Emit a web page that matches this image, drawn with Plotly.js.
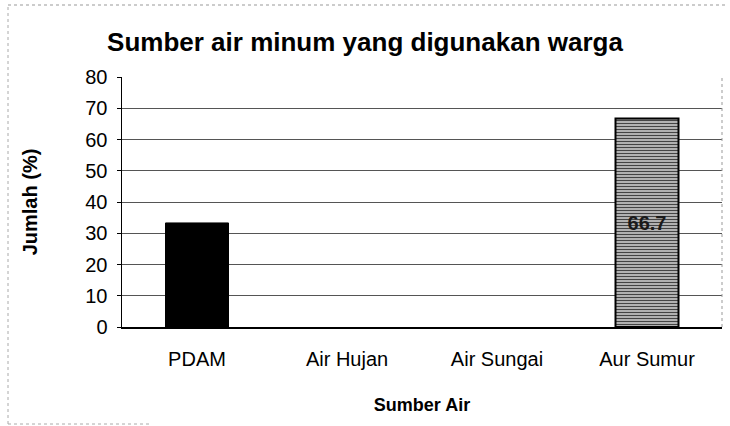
<!DOCTYPE html>
<html>
<head>
<meta charset="utf-8">
<script src="https://cdn.plot.ly/plotly-3.0.1.min.js"></script>
<style>html,body{margin:0;padding:0;background:#fff;}#chart{width:730px;height:426px;}</style>
</head>
<body>
<div id="chart"></div>
<script>
const categories = ["PDAM", "Air Hujan", "Air Sungai", "Aur Sumur"];
const values = [33.3, 0, 0, 66.7];
const valueLabels = ["", "", "", "66.7"];
const yTicks = [0, 10, 20, 30, 40, 50, 60, 70, 80];

const barColors = ["#000000", "#000000", "#000000", "#bdbdbd"];
const barLineWidths = [1, 0, 0, 2];
const patternShapes = ["", "", "", "-"];

const trace = {
  type: "bar",
  x: categories,
  y: values,
  text: valueLabels,
  textposition: "inside",
  insidetextanchor: "middle",
  textangle: 0,
  textfont: {family: "Arial, Liberation Sans, sans-serif", size: 20, color: "#1a1a1a", weight: "bold"},
  marker: {
    color: barColors,
    line: {color: "#000", width: barLineWidths},
    pattern: {shape: patternShapes, fillmode: "overlay", fgcolor: "#7a7a7a", fgopacity: 1, size: 3, solidity: 0.4}
  },
  hoverinfo: "none"
};

const layout = {
  width: 730, height: 426,
  margin: {l: 122, r: 8, t: 77, b: 99},
  paper_bgcolor: "#fff", plot_bgcolor: "#fff",
  showlegend: false,
  bargap: 0.58,
  font: {family: "Arial, Liberation Sans, sans-serif", color: "#000"},
  title: {
    text: "Sumber air minum yang digunakan warga",
    font: {size: 26, weight: "bold", color: "#000"},
    xref: "container", x: 0.5, xanchor: "center",
    yref: "container", y: 1 - 42/426, yanchor: "middle"
  },
  xaxis: {
    type: "category",
    showline: true, linecolor: "#000", linewidth: 1.5,
    ticks: "", tickfont: {size: 20}, ticklabelstandoff: 13,
    title: {text: "Sumber Air", font: {size: 18, weight: "bold"}, standoff: 30}
  },
  yaxis: {
    range: [0, 80],
    tickvals: yTicks,
    ticktext: yTicks.map(String),
    showgrid: true, gridcolor: "#555", gridwidth: 1,
    showline: true, linecolor: "#000", linewidth: 1.5,
    ticks: "outside", ticklen: 4, tickcolor: "#000",
    tickfont: {size: 20}, ticklabelstandoff: 5,
    zeroline: false,
    title: {text: "Jumlah (%)", font: {size: 20, weight: "bold"}, standoff: 42}
  },
  shapes: [
    {type: "line", xref: "paper", yref: "paper", x0: 1, x1: 1, y0: 0, y1: 1, line: {color: "#999", width: 1, dash: "dot"}},
    {type: "line", xref: "paper", yref: "paper", x0: -0.19, x1: 1.01, y0: 1.288, y1: 1.288, line: {color: "#999", width: 1, dash: "dot"}},
    {type: "line", xref: "paper", yref: "paper", x0: -0.19, x1: -0.19, y0: -0.388, y1: 1.288, line: {color: "#aaa", width: 1, dash: "dot"}},
    {type: "line", xref: "paper", yref: "paper", x0: -0.19, x1: 0.05, y0: -0.388, y1: -0.388, line: {color: "#aaa", width: 1, dash: "dot"}}
  ]
};

Plotly.newPlot("chart", [trace], layout, {staticPlot: true, displayModeBar: false});
</script>
</body>
</html>
